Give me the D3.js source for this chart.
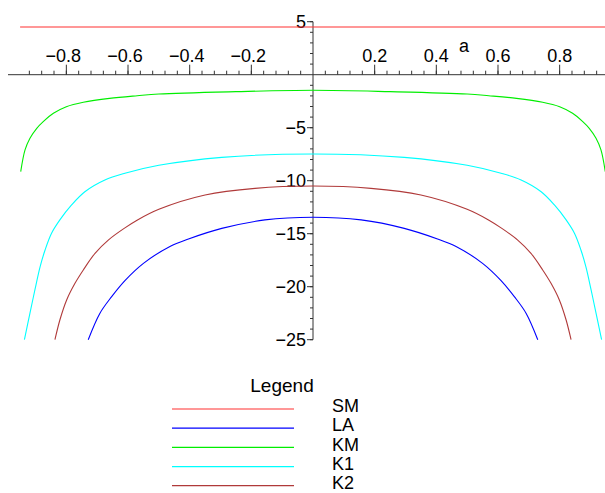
<!DOCTYPE html>
<html><head><meta charset="utf-8">
<script src="https://cdn.jsdelivr.net/npm/d3@7"></script>
<style>body{margin:0;background:#fff}svg{display:block}text{font-family:"Liberation Sans",Arial,sans-serif;fill:#000}</style>
</head><body>
<svg id="c" width="605" height="493"></svg>
<script>
// Data
const seriesNames = ["SM","LA","KM","K1","K2"];
const seriesColors = ["#ff3030","#0000ff","#00ee00","#00ffff","#b03a3a"];
const smA = [-0.95, 0.95];
const smV = [4.5, 4.5];
const laA = [-0.729,-0.691,-0.653,-0.61,-0.55,-0.464,-0.404,-0.296,-0.156,0,0.156,0.296,0.404,0.464,0.55,0.61,0.653,0.691,0.729];
const laV = [-25,-22.5,-20.94,-19.43,-17.8,-16.2,-15.5,-14.5,-13.7,-13.45,-13.7,-14.5,-15.5,-16.2,-17.8,-19.43,-20.94,-22.5,-25];
const kmA = [-0.948,-0.934,-0.918,-0.896,-0.875,-0.842,-0.8,-0.745,-0.66,-0.57,-0.5,-0.25,0,0.25,0.5,0.57,0.66,0.745,0.8,0.842,0.875,0.896,0.918,0.934,0.948];
const kmV = [-9.15,-7.1,-6.0,-5.06,-4.43,-3.64,-3.02,-2.6,-2.23,-1.98,-1.82,-1.6,-1.47,-1.6,-1.82,-1.98,-2.23,-2.6,-3.02,-3.64,-4.43,-5.06,-6.0,-7.1,-9.15];
const k1A = [-0.936,-0.918,-0.902,-0.885,-0.869,-0.848,-0.821,-0.783,-0.74,-0.675,-0.61,-0.5,-0.296,0,0.296,0.5,0.61,0.675,0.74,0.783,0.821,0.848,0.869,0.885,0.902,0.918,0.936];
const k1V = [-25,-22.5,-20.3,-18.1,-16.54,-14.96,-13.7,-12.29,-11.04,-9.93,-9.3,-8.55,-7.8,-7.48,-7.8,-8.55,-9.3,-9.93,-11.04,-12.29,-13.7,-14.96,-16.54,-18.1,-20.3,-22.5,-25];
const k2A = [-0.837,-0.821,-0.799,-0.772,-0.745,-0.707,-0.664,-0.61,-0.572,-0.5,-0.35,-0.188,0,0.188,0.35,0.5,0.572,0.61,0.664,0.707,0.745,0.772,0.799,0.821,0.837];
const k2V = [-25,-23.14,-21.25,-19.68,-18.42,-16.85,-15.6,-14.45,-13.75,-12.7,-11.35,-10.72,-10.5,-10.72,-11.35,-12.7,-13.75,-14.45,-15.6,-16.85,-18.42,-19.68,-21.25,-23.14,-25];
const xTicks = [-0.8,-0.6,-0.4,-0.2,0.2,0.4,0.6,0.8];
const yTicks = [5,-5,-10,-15,-20,-25];

const svg = d3.select("#c");
const x = d3.scaleLinear().domain([-0.95,0.95]).range([20.1,605.9]);
const y = d3.scaleLinear().domain([-25,5]).range([339.7,21.7]);
const axisColor = "#333";

// x axis
const gx = svg.append("g");
gx.append("line").attr("x1",8).attr("x2",605).attr("y1",y(0)).attr("y2",y(0)).attr("stroke",axisColor);
const xMinor = d3.range(-23,24).map(i=>i*0.04).filter(v=>Math.abs(v)>1e-9);
gx.selectAll(".xm").data(xMinor).join("line")
  .attr("x1",d=>x(d)).attr("x2",d=>x(d)).attr("y1",y(0)).attr("y2",y(0)-4).attr("stroke",axisColor);
gx.selectAll(".xM").data(xTicks).join("line")
  .attr("x1",d=>x(d)).attr("x2",d=>x(d)).attr("y1",y(0)).attr("y2",y(0)-10).attr("stroke",axisColor);
const fmt = d => (d<0?"\u2212":"") + Math.abs(d).toString();
gx.selectAll(".xl").data(xTicks).join("text")
  .attr("x",d=>x(d)-(d<0?3:0)).attr("y",62).attr("text-anchor","middle").attr("font-size",18).text(fmt);
svg.append("text").attr("x",464).attr("y",52).attr("text-anchor","middle").attr("font-size",18).text("a");

// y axis
const gy = svg.append("g");
gy.append("line").attr("x1",x(0)).attr("x2",x(0)).attr("y1",y(5)).attr("y2",y(-25)).attr("stroke",axisColor);
const yMinor = d3.range(-25,6).filter(v=>v!==0);
gy.selectAll(".ym").data(yMinor).join("line")
  .attr("x1",x(0)).attr("x2",x(0)-3).attr("y1",d=>y(d)).attr("y2",d=>y(d)).attr("stroke",axisColor);
gy.selectAll(".yM").data(yTicks).join("line")
  .attr("x1",x(0)).attr("x2",x(0)-6).attr("y1",d=>y(d)).attr("y2",d=>y(d)).attr("stroke",axisColor);
gy.selectAll(".yl").data(yTicks).join("text")
  .attr("x",306).attr("y",d=>y(d)).attr("dy","0.36em").attr("text-anchor","end").attr("font-size",18).text(fmt);

// curves
const line = d3.line().x(d=>x(d[0])).y(d=>y(d[1])).curve(d3.curveCatmullRom.alpha(0.5));
const zip = (a,v)=>a.map((t,i)=>[t,v[i]]);
const series = [zip(smA,smV), zip(laA,laV), zip(kmA,kmV), zip(k1A,k1V), zip(k2A,k2V)];
svg.append("g").selectAll("path").data(series).join("path")
  .attr("d",line).attr("fill","none").attr("stroke",(d,i)=>seriesColors[i]).attr("stroke-width",1.1);

// legend
const lg = svg.append("g");
lg.append("text").attr("x",282).attr("y",392).attr("text-anchor","middle").attr("font-size",19).text("Legend");
const ly = d3.scaleLinear().domain([0,4]).range([409,485.7]);
lg.selectAll(".ll").data(seriesNames).join("line")
  .attr("x1",172).attr("x2",294).attr("y1",(d,i)=>ly(i)).attr("y2",(d,i)=>ly(i))
  .attr("stroke",(d,i)=>seriesColors[i]).attr("stroke-width",1.2);
lg.selectAll(".lt").data(seriesNames).join("text")
  .attr("x",332).attr("y",(d,i)=>ly(i)).attr("dy","0.18em").attr("font-size",18).text(d=>d);
</script>
</body></html>
